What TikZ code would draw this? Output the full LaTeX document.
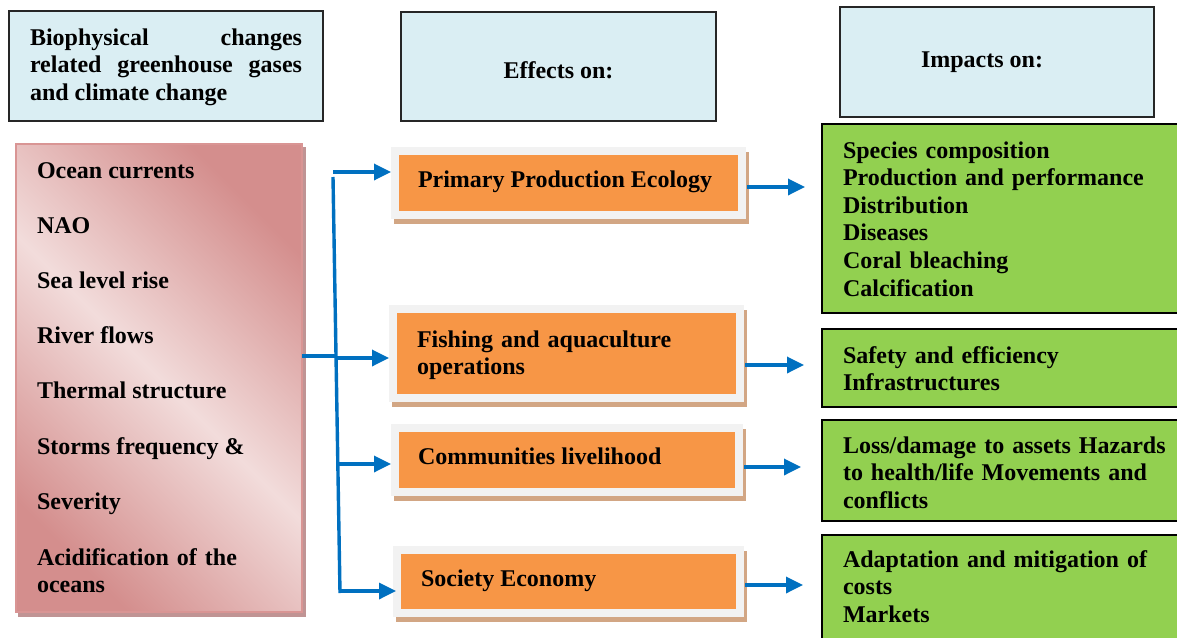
\documentclass[tikz,border=0pt]{standalone}
\usepackage{fontspec}
\setmainfont{Liberation Serif}
\usetikzlibrary{arrows.meta,calc}

\definecolor{hdrblue}{HTML}{DAEEF3}
\definecolor{pinkdark}{HTML}{D48E8D}
\definecolor{pinklight}{HTML}{F2DCDB}
\definecolor{pinkedge}{RGB}{217,149,148}
\definecolor{pinkshadow}{RGB}{192,148,148}
\definecolor{orangefill}{HTML}{F79646}
\definecolor{framegray}{HTML}{F2F2F2}
\definecolor{tanshadow}{RGB}{210,166,132}
\definecolor{greenfill}{HTML}{92D050}
\definecolor{linkblue}{HTML}{0070C0}

\begin{document}
\begin{tikzpicture}[x=1pt,y=-1pt,
  every node/.style={inner sep=0pt, outer sep=0pt},
  txt/.style={font=\fontsize{24}{27.6}\selectfont\bfseries, anchor=base west},
  mtxt/.style={txt, text width=#1, align=left},
  hdrbox/.style={draw=black!85, line width=1.6pt, fill=hdrblue},
  driverbox/.style={draw=pinkedge, line width=2pt,
    left color=pinkdark, right color=pinkdark, middle color=pinklight,
    shading angle=135,
    preaction={draw=pinkshadow, fill=pinkshadow, line width=2pt,
      transform canvas={shift={(3pt,-4pt)}}}},
  effectbox/.style={fill=framegray,
    preaction={fill=tanshadow, transform canvas={shift={(2.5pt,-5pt)}}},
    path picture={\fill[orangefill]
      ($(path picture bounding box.north west)+(8pt,-8pt)$) rectangle
      ($(path picture bounding box.south east)+(-8pt,8pt)$);}},
  impactbox/.style={draw=black, line width=1.5pt, fill=greenfill},
  link/.style={draw=linkblue, line width=3.4pt},
  linkarrow/.style={link, -{Triangle[length=17pt,width=16pt]}}
]
\useasboundingbox (0,0) rectangle (1177,637);

% ---------- column headers ----------
\node[hdrbox, minimum width=314pt, minimum height=110pt] (h1) at (166,66) {};
\node[hdrbox, minimum width=315pt, minimum height=109pt] (h2) at (558.5,66.5) {};
\node[hdrbox, minimum width=314pt, minimum height=110pt] (h3) at (997,62) {};
\node[txt, text width=272pt, align=justify] (h1t) at (30,45)
  {\hyphenpenalty=10000 \exhyphenpenalty=10000 \tolerance=10000
   Biophysical changes related greenhouse gases and climate change\par};
\node[txt, anchor=base] (h2t) at (558.5,78) {Effects on:};
\node[txt, anchor=base] (h3t) at (982,67) {Impacts on:};

% ---------- drivers ----------
\node[driverbox, minimum width=286pt, minimum height=468pt] (bio) at (159,378) {};
\node[txt] (d1) at (37,178) {Ocean currents};
\node[txt] (d2) at (37,233) {NAO};
\node[txt] (d3) at (37,288) {Sea level rise};
\node[txt] (d4) at (37,343) {River flows};
\node[txt] (d5) at (37,398) {Thermal structure};
\node[txt] (d6) at (37,454) {Storms frequency \&};
\node[txt] (d7) at (37,509) {Severity};
\node[mtxt=250pt] (d8) at (37,565) {Acidification of the\\oceans};

% ---------- effects ----------
\node[effectbox, minimum width=355pt, minimum height=72pt] (eA) at (568.5,183) {};
\node[effectbox, minimum width=355pt, minimum height=97pt] (eB) at (566.5,353.5) {};
\node[effectbox, minimum width=352pt, minimum height=72pt] (eC) at (567,460) {};
\node[effectbox, minimum width=351pt, minimum height=71pt] (eD) at (568.5,581.5) {};
\node[txt] (eAt) at (418,187) {Primary Production Ecology};
\node[mtxt=300pt] (eBt) at (417,347) {Fishing and aquaculture\\operations};
\node[txt] (eCt) at (418,464) {Communities livelihood};
\node[txt] (eDt) at (421,586) {Society Economy};

% ---------- impacts ----------
\node[impactbox, minimum width=368pt, minimum height=189pt] (gA) at (1006,218.5) {};
\node[impactbox, minimum width=368pt, minimum height=78pt] (gB) at (1006,368) {};
\node[impactbox, minimum width=368pt, minimum height=101pt] (gC) at (1006,470.5) {};
\node[impactbox, minimum width=368pt, minimum height=120pt] (gD) at (1006,595) {};
\node[mtxt=330pt] (gAt) at (843,158) {Species composition\\Production and performance\\Distribution\\Diseases\\Coral bleaching\\Calcification};
\node[mtxt=330pt] (gBt) at (843,363) {Safety and efficiency\\Infrastructures};
\node[mtxt=330pt] (gCt) at (843,453) {Loss/damage to assets Hazards\\to health/life Movements and\\conflicts};
\node[mtxt=330pt] (gDt) at (843,567) {Adaptation and mitigation of\\costs\\Markets};

% ---------- fan-out from the drivers ----------
\coordinate (tTop) at (333,177);
\coordinate (tBot) at (340,593);
\coordinate (rin) at (336,356);
\coordinate (bA) at (333,172);
\coordinate (bB) at (336,358);
\coordinate (bC) at (337.5,464);
\coordinate (bD) at (340,591);
\draw[link] (tTop) -- (tBot);
\draw[link] (bio.east |- rin) -- (rin);
\draw[linkarrow] (bA) -- (eA.west |- bA);
\draw[linkarrow] (bB) -- (eB.west |- bB);
\draw[linkarrow] (bC) -- (eC.west |- bC);
\draw[linkarrow, shorten >=-3pt] (bD) -- (eD.west |- bD);

% ---------- effects to impacts ----------
\coordinate (rA) at (0,187);
\coordinate (rB) at (0,365);
\coordinate (rC) at (0,467);
\coordinate (rD) at (0,585);
\draw[linkarrow, shorten <=1pt, shorten >=17pt] (eA.east |- rA) -- (gA.west |- rA);
\draw[linkarrow, shorten <=1pt, shorten >=18pt] (eB.east |- rB) -- (gB.west |- rB);
\draw[linkarrow, shorten <=1pt, shorten >=21pt] (eC.east |- rC) -- (gC.west |- rC);
\draw[linkarrow, shorten <=1pt, shorten >=19pt] (eD.east |- rD) -- (gD.west |- rD);
\end{tikzpicture}
\end{document}
